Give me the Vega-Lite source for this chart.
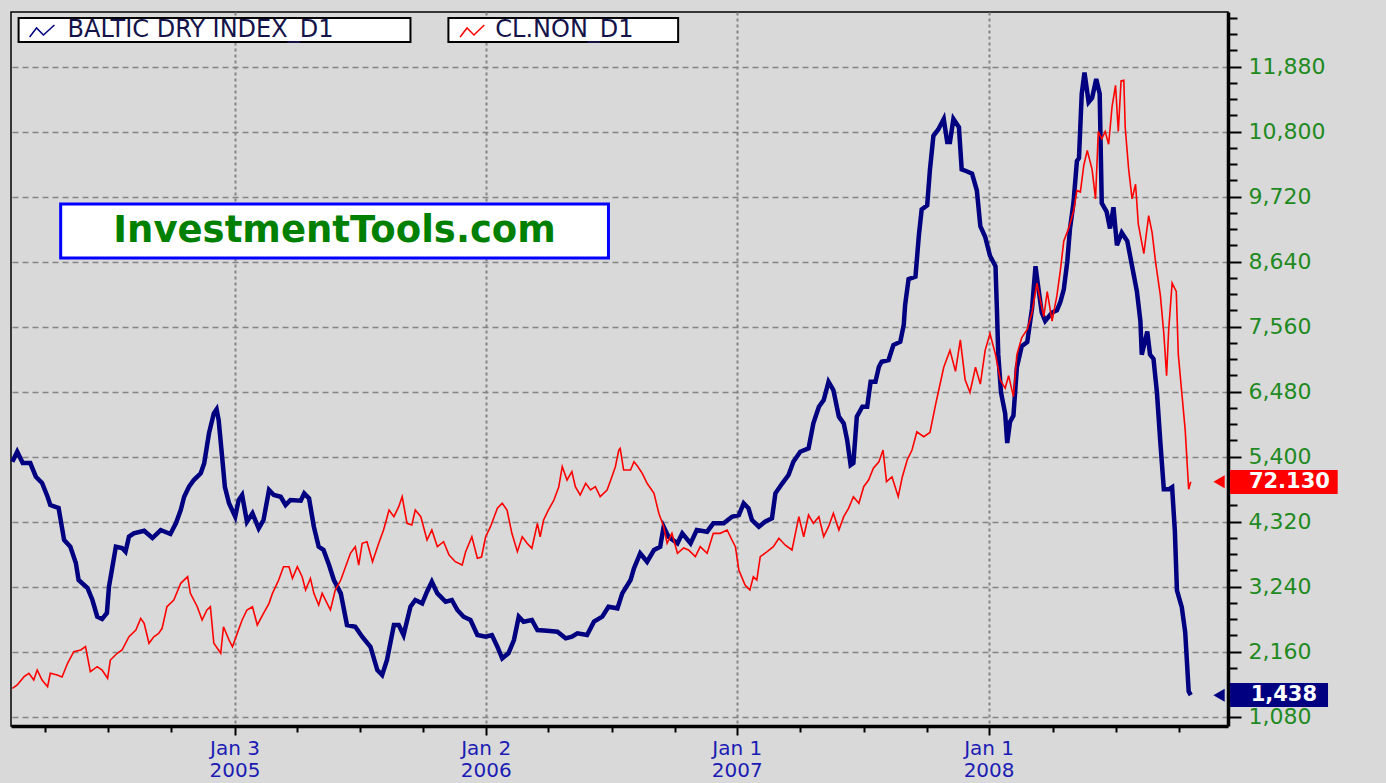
{
"$schema": "https://vega.github.io/schema/vega-lite/v6.json",
"width": 1217, "height": 714,
"autosize": {"type": "none"},
"padding": {"left": 11, "top": 12, "right": 158, "bottom": 57},
"background": "#d9d9d9",
"config": {"view": {"stroke": "#000000", "strokeWidth": 1.5, "fill": "#d9d9d9"}, "font": "DejaVu Sans"},
"datasets": {
"bdi": [
{"d":"2004-02-16","v":5317},{"d":"2004-02-23","v":5483},{"d":"2004-03-02","v":5295},{"d":"2004-03-13","v":5295},{"d":"2004-03-21","v":5068},{"d":"2004-03-30","v":4963},{"d":"2004-04-07","v":4735},{"d":"2004-04-11","v":4597},{"d":"2004-04-23","v":4548},{"d":"2004-05-01","v":4016},{"d":"2004-05-10","v":3905},{"d":"2004-05-18","v":3634},{"d":"2004-05-22","v":3351},{"d":"2004-06-04","v":3218},{"d":"2004-06-11","v":3019},{"d":"2004-06-18","v":2742},{"d":"2004-06-25","v":2703},{"d":"2004-07-02","v":2803},{"d":"2004-07-05","v":3240},{"d":"2004-07-10","v":3572},{"d":"2004-07-15","v":3905},{"d":"2004-07-24","v":3883},{"d":"2004-07-29","v":3822},{"d":"2004-08-03","v":4071},{"d":"2004-08-10","v":4127},{"d":"2004-08-25","v":4170},{"d":"2004-09-06","v":4049},{"d":"2004-09-18","v":4182},{"d":"2004-10-02","v":4116},{"d":"2004-10-10","v":4293},{"d":"2004-10-17","v":4514},{"d":"2004-10-22","v":4735},{"d":"2004-10-29","v":4901},{"d":"2004-11-05","v":5013},{"d":"2004-11-15","v":5124},{"d":"2004-11-20","v":5290},{"d":"2004-11-27","v":5789},{"d":"2004-12-04","v":6121},{"d":"2004-12-08","v":6188},{"d":"2004-12-11","v":6010},{"d":"2004-12-16","v":5400},{"d":"2004-12-20","v":4901},{"d":"2004-12-26","v":4626},
{"d":"2005-01-04","v":4403},{"d":"2005-01-09","v":4680},{"d":"2005-01-14","v":4764},{"d":"2005-01-21","v":4320},{"d":"2005-01-29","v":4459},{"d":"2005-02-07","v":4210},{"d":"2005-02-14","v":4348},{"d":"2005-02-22","v":4847},{"d":"2005-03-01","v":4764},{"d":"2005-03-11","v":4735},{"d":"2005-03-18","v":4597},{"d":"2005-03-25","v":4680},{"d":"2005-04-09","v":4669},{"d":"2005-04-14","v":4792},{"d":"2005-04-21","v":4709},{"d":"2005-04-28","v":4237},{"d":"2005-05-05","v":3905},{"d":"2005-05-12","v":3850},{"d":"2005-05-20","v":3601},{"d":"2005-05-27","v":3351},{"d":"2005-06-06","v":3130},{"d":"2005-06-15","v":2604},{"d":"2005-06-27","v":2575},{"d":"2005-07-07","v":2409},{"d":"2005-07-19","v":2243},{"d":"2005-07-29","v":1856},{"d":"2005-08-05","v":1773},{"d":"2005-08-12","v":2022},{"d":"2005-08-22","v":2604},{"d":"2005-08-29","v":2604},{"d":"2005-09-05","v":2437},{"d":"2005-09-15","v":2908},{"d":"2005-09-22","v":3019},{"d":"2005-10-02","v":2964},{"d":"2005-10-09","v":3157},{"d":"2005-10-16","v":3323},{"d":"2005-10-24","v":3130},{"d":"2005-11-05","v":2991},{"d":"2005-11-14","v":3019},{"d":"2005-11-22","v":2853},{"d":"2005-12-01","v":2742},{"d":"2005-12-11","v":2687},{"d":"2005-12-21","v":2437},
{"d":"2006-01-02","v":2409},{"d":"2006-01-11","v":2437},{"d":"2006-01-19","v":2243},{"d":"2006-01-26","v":2050},{"d":"2006-02-04","v":2133},{"d":"2006-02-12","v":2354},{"d":"2006-02-19","v":2742},{"d":"2006-02-26","v":2659},{"d":"2006-03-10","v":2687},{"d":"2006-03-18","v":2521},{"d":"2006-04-01","v":2509},{"d":"2006-04-16","v":2492},{"d":"2006-04-28","v":2383},{"d":"2006-05-07","v":2409},{"d":"2006-05-15","v":2466},{"d":"2006-05-29","v":2437},{"d":"2006-06-08","v":2659},{"d":"2006-06-20","v":2742},{"d":"2006-06-29","v":2908},{"d":"2006-07-12","v":2881},{"d":"2006-07-19","v":3130},{"d":"2006-07-31","v":3351},{"d":"2006-08-05","v":3546},{"d":"2006-08-14","v":3795},{"d":"2006-08-24","v":3655},{"d":"2006-09-03","v":3850},{"d":"2006-09-12","v":3905},{"d":"2006-09-17","v":4237},{"d":"2006-09-24","v":4071},{"d":"2006-10-07","v":3961},{"d":"2006-10-14","v":4127},{"d":"2006-10-26","v":3961},{"d":"2006-11-04","v":4182},{"d":"2006-11-19","v":4154},{"d":"2006-11-28","v":4293},{"d":"2006-12-13","v":4293},{"d":"2006-12-25","v":4403},
{"d":"2007-01-04","v":4431},{"d":"2007-01-11","v":4626},{"d":"2007-01-18","v":4543},{"d":"2007-01-23","v":4348},{"d":"2007-02-02","v":4237},{"d":"2007-02-11","v":4320},{"d":"2007-02-21","v":4376},{"d":"2007-02-26","v":4792},{"d":"2007-03-08","v":4958},{"d":"2007-03-17","v":5096},{"d":"2007-03-24","v":5317},{"d":"2007-04-03","v":5483},{"d":"2007-04-15","v":5539},{"d":"2007-04-22","v":5955},{"d":"2007-04-30","v":6231},{"d":"2007-05-07","v":6342},{"d":"2007-05-14","v":6646},{"d":"2007-05-21","v":6508},{"d":"2007-05-29","v":6065},{"d":"2007-06-05","v":5955},{"d":"2007-06-10","v":5677},{"d":"2007-06-15","v":5262},{"d":"2007-06-19","v":5295},{"d":"2007-06-24","v":6065},{"d":"2007-07-02","v":6231},{"d":"2007-07-09","v":6231},{"d":"2007-07-14","v":6646},{"d":"2007-07-21","v":6646},{"d":"2007-07-26","v":6895},{"d":"2007-07-30","v":6978},{"d":"2007-08-09","v":7007},{"d":"2007-08-16","v":7256},{"d":"2007-08-26","v":7311},{"d":"2007-08-31","v":7588},{"d":"2007-09-02","v":7920},{"d":"2007-09-07","v":8352},{"d":"2007-09-17","v":8394},{"d":"2007-09-22","v":9088},{"d":"2007-09-26","v":9509},{"d":"2007-10-04","v":9579},{"d":"2007-10-08","v":10173},{"d":"2007-10-13","v":10732},{"d":"2007-10-20","v":10838},{"d":"2007-10-28","v":11013},{"d":"2007-11-02","v":10629},{"d":"2007-11-06","v":10629},{"d":"2007-11-11","v":11013},{"d":"2007-11-19","v":10873},{"d":"2007-11-23","v":10173},{"d":"2007-12-01","v":10139},{"d":"2007-12-08","v":10104},{"d":"2007-12-15","v":9823},{"d":"2007-12-20","v":9230},{"d":"2007-12-27","v":9054},
{"d":"2008-01-03","v":8740},{"d":"2008-01-11","v":8565},{"d":"2008-01-13","v":7866},{"d":"2008-01-15","v":7096},{"d":"2008-01-19","v":6467},{"d":"2008-01-25","v":6118},{"d":"2008-01-28","v":5628},{"d":"2008-02-01","v":5976},{"d":"2008-02-06","v":6083},{"d":"2008-02-11","v":6887},{"d":"2008-02-18","v":7236},{"d":"2008-02-26","v":7306},{"d":"2008-03-04","v":7866},{"d":"2008-03-09","v":8565},{"d":"2008-03-13","v":8215},{"d":"2008-03-18","v":7796},{"d":"2008-03-23","v":7655},{"d":"2008-04-02","v":7796},{"d":"2008-04-09","v":7831},{"d":"2008-04-14","v":7970},{"d":"2008-04-19","v":8180},{"d":"2008-04-24","v":8635},{"d":"2008-04-28","v":9193},{"d":"2008-05-03","v":9613},{"d":"2008-05-08","v":10313},{"d":"2008-05-11","v":10363},{"d":"2008-05-15","v":11431},{"d":"2008-05-19","v":11782},{"d":"2008-05-25","v":11292},{"d":"2008-05-30","v":11360},{"d":"2008-06-05","v":11677},{"d":"2008-06-10","v":11431},{"d":"2008-06-13","v":9613},{"d":"2008-06-20","v":9474},{"d":"2008-06-25","v":9193},{"d":"2008-06-30","v":9544},{"d":"2008-07-05","v":8914},{"d":"2008-07-12","v":9123},{"d":"2008-07-20","v":8984},{"d":"2008-07-27","v":8565},{"d":"2008-08-03","v":8145},{"d":"2008-08-08","v":7655},{"d":"2008-08-10","v":7096},{"d":"2008-08-18","v":7480},{"d":"2008-08-22","v":7096},{"d":"2008-08-27","v":7027},{"d":"2008-09-01","v":6467},{"d":"2008-09-06","v":5628},{"d":"2008-09-11","v":4858},{"d":"2008-09-18","v":4858},{"d":"2008-09-23","v":4893},{"d":"2008-09-27","v":4159},{"d":"2008-09-30","v":3180},{"d":"2008-10-07","v":2901},{"d":"2008-10-12","v":2481},{"d":"2008-10-17","v":1502},{"d":"2008-10-20","v":1438}
],
"oil": [
{"d":"2004-02-16","v":34.96},{"d":"2004-02-23","v":35.56},{"d":"2004-03-04","v":37.05},{"d":"2004-03-11","v":37.66},{"d":"2004-03-18","v":36.45},{"d":"2004-03-23","v":38.25},{"d":"2004-03-30","v":36.45},{"d":"2004-04-07","v":35.25},{"d":"2004-04-11","v":37.66},{"d":"2004-04-21","v":37.35},{"d":"2004-04-28","v":36.99},{"d":"2004-05-06","v":39.46},{"d":"2004-05-15","v":41.55},{"d":"2004-05-25","v":41.85},{"d":"2004-06-01","v":42.45},{"d":"2004-06-08","v":37.95},{"d":"2004-06-18","v":38.85},{"d":"2004-06-25","v":38.25},{"d":"2004-07-03","v":36.76},{"d":"2004-07-07","v":40.05},{"d":"2004-07-17","v":41.26},{"d":"2004-07-24","v":41.85},{"d":"2004-08-03","v":44.24},{"d":"2004-08-13","v":45.45},{"d":"2004-08-20","v":47.55},{"d":"2004-08-25","v":46.65},{"d":"2004-09-01","v":43.06},{"d":"2004-09-08","v":44.24},{"d":"2004-09-15","v":44.85},{"d":"2004-09-20","v":45.75},{"d":"2004-09-27","v":49.64},{"d":"2004-10-07","v":50.85},{"d":"2004-10-17","v":53.85},{"d":"2004-10-27","v":55.04},{"d":"2004-10-31","v":52.05},{"d":"2004-11-10","v":49.64},{"d":"2004-11-17","v":47.25},{"d":"2004-11-24","v":49.05},{"d":"2004-11-29","v":49.64},{"d":"2004-12-04","v":43.06},{"d":"2004-12-14","v":41.26},{"d":"2004-12-18","v":46.04},{"d":"2004-12-26","v":43.65},{"d":"2004-12-31","v":42.45},
{"d":"2005-01-07","v":44.85},{"d":"2005-01-14","v":47.25},{"d":"2005-01-21","v":49.05},{"d":"2005-01-29","v":49.64},{"d":"2005-02-05","v":46.35},{"d":"2005-02-14","v":48.45},{"d":"2005-02-22","v":50.25},{"d":"2005-02-27","v":52.05},{"d":"2005-03-08","v":54.44},{"d":"2005-03-15","v":56.84},{"d":"2005-03-23","v":56.84},{"d":"2005-03-28","v":54.75},{"d":"2005-04-04","v":56.84},{"d":"2005-04-11","v":55.04},{"d":"2005-04-16","v":52.64},{"d":"2005-04-23","v":54.75},{"d":"2005-04-28","v":52.05},{"d":"2005-05-05","v":49.95},{"d":"2005-05-10","v":52.05},{"d":"2005-05-22","v":49.05},{"d":"2005-05-29","v":52.64},{"d":"2005-06-06","v":54.44},{"d":"2005-06-20","v":59.25},{"d":"2005-06-27","v":60.44},{"d":"2005-07-02","v":57.14},{"d":"2005-07-07","v":61.05},{"d":"2005-07-14","v":61.33},{"d":"2005-07-22","v":57.74},{"d":"2005-07-31","v":61.05},{"d":"2005-08-07","v":63.44},{"d":"2005-08-15","v":67.04},{"d":"2005-08-22","v":65.83},{"d":"2005-08-29","v":67.63},{"d":"2005-09-03","v":69.43},{"d":"2005-09-10","v":64.64},{"d":"2005-09-17","v":64.34},{"d":"2005-09-22","v":67.04},{"d":"2005-09-30","v":65.83},{"d":"2005-10-09","v":61.64},{"d":"2005-10-16","v":63.44},{"d":"2005-10-24","v":60.44},{"d":"2005-11-02","v":61.33},{"d":"2005-11-10","v":58.94},{"d":"2005-11-19","v":57.74},{"d":"2005-11-29","v":57.14},{"d":"2005-12-04","v":59.54},{"d":"2005-12-13","v":62.23},{"d":"2005-12-21","v":58.35},{"d":"2005-12-27","v":58.58},
{"d":"2006-01-02","v":62.23},{"d":"2006-01-09","v":64.03},{"d":"2006-01-19","v":67.34},{"d":"2006-01-26","v":68.24},{"d":"2006-02-02","v":67.04},{"d":"2006-02-09","v":62.84},{"d":"2006-02-17","v":59.54},{"d":"2006-02-24","v":62.23},{"d":"2006-03-03","v":61.04},{"d":"2006-03-10","v":60.15},{"d":"2006-03-18","v":64.64},{"d":"2006-03-22","v":62.23},{"d":"2006-03-27","v":65.24},{"d":"2006-04-03","v":67.04},{"d":"2006-04-11","v":68.83},{"d":"2006-04-18","v":71.23},{"d":"2006-04-23","v":74.83},{"d":"2006-04-30","v":72.43},{"d":"2006-05-07","v":73.93},{"d":"2006-05-12","v":71.23},{"d":"2006-05-19","v":69.73},{"d":"2006-05-27","v":71.84},{"d":"2006-06-03","v":70.63},{"d":"2006-06-10","v":71.23},{"d":"2006-06-17","v":69.43},{"d":"2006-06-27","v":70.63},{"d":"2006-07-04","v":73.03},{"d":"2006-07-09","v":74.83},{"d":"2006-07-14","v":77.83},{"d":"2006-07-16","v":78.13},{"d":"2006-07-21","v":74.23},{"d":"2006-07-31","v":74.23},{"d":"2006-08-05","v":75.72},{"d":"2006-08-10","v":74.95},{"d":"2006-08-17","v":73.64},{"d":"2006-08-24","v":71.84},{"d":"2006-09-03","v":70.04},{"d":"2006-09-10","v":66.44},{"d":"2006-09-17","v":64.03},{"d":"2006-09-22","v":61.04},{"d":"2006-09-29","v":62.84},{"d":"2006-10-07","v":59.25},{"d":"2006-10-16","v":60.2},{"d":"2006-10-23","v":59.84},{"d":"2006-11-02","v":58.64},{"d":"2006-11-09","v":60.44},{"d":"2006-11-19","v":59.25},{"d":"2006-11-28","v":62.84},{"d":"2006-12-08","v":62.84},{"d":"2006-12-18","v":63.44},{"d":"2006-12-25","v":61.64},{"d":"2006-12-30","v":60.44},
{"d":"2007-01-04","v":56.24},{"d":"2007-01-13","v":53.54},{"d":"2007-01-20","v":52.64},{"d":"2007-01-25","v":55.04},{"d":"2007-01-30","v":54.44},{"d":"2007-02-04","v":58.64},{"d":"2007-02-14","v":59.54},{"d":"2007-02-23","v":60.44},{"d":"2007-03-03","v":61.94},{"d":"2007-03-12","v":60.74},{"d":"2007-03-22","v":59.84},{"d":"2007-03-27","v":62.84},{"d":"2007-04-01","v":65.83},{"d":"2007-04-08","v":62.23},{"d":"2007-04-15","v":66.14},{"d":"2007-04-22","v":64.64},{"d":"2007-04-30","v":65.83},{"d":"2007-05-07","v":62.23},{"d":"2007-05-14","v":64.03},{"d":"2007-05-21","v":66.44},{"d":"2007-05-29","v":63.44},{"d":"2007-06-05","v":65.83},{"d":"2007-06-12","v":67.34},{"d":"2007-06-19","v":69.43},{"d":"2007-06-27","v":68.24},{"d":"2007-07-04","v":71.23},{"d":"2007-07-11","v":72.43},{"d":"2007-07-18","v":74.54},{"d":"2007-07-26","v":75.72},{"d":"2007-08-01","v":77.83},{"d":"2007-08-06","v":72.13},{"d":"2007-08-14","v":72.97},{"d":"2007-08-23","v":69.43},{"d":"2007-08-29","v":73.03},{"d":"2007-09-05","v":76.03},{"d":"2007-09-12","v":77.83},{"d":"2007-09-19","v":81.09},{"d":"2007-09-29","v":80.22},{"d":"2007-10-08","v":80.98},{"d":"2007-10-16","v":85.91},{"d":"2007-10-20","v":88.17},{"d":"2007-10-28","v":92.72},{"d":"2007-11-06","v":95.75},{"d":"2007-11-14","v":91.97},{"d":"2007-11-21","v":97.64},{"d":"2007-11-28","v":90.44},{"d":"2007-12-05","v":88.17},{"d":"2007-12-13","v":92.72},{"d":"2007-12-20","v":89.68},{"d":"2007-12-27","v":95.75},
{"d":"2008-01-03","v":98.77},{"d":"2008-01-11","v":94.99},{"d":"2008-01-18","v":90.44},{"d":"2008-01-25","v":88.93},{"d":"2008-01-30","v":91.2},{"d":"2008-02-06","v":87.42},{"d":"2008-02-11","v":94.99},{"d":"2008-02-18","v":98.01},{"d":"2008-02-26","v":99.52},{"d":"2008-03-04","v":102.56},{"d":"2008-03-11","v":107.85},{"d":"2008-03-16","v":104.83},{"d":"2008-03-21","v":101.81},{"d":"2008-03-26","v":106.34},{"d":"2008-04-02","v":101.03},{"d":"2008-04-09","v":105.59},{"d":"2008-04-14","v":110.14},{"d":"2008-04-19","v":115.43},{"d":"2008-04-26","v":117.69},{"d":"2008-05-03","v":120.73},{"d":"2008-05-08","v":124.51},{"d":"2008-05-13","v":124.24},{"d":"2008-05-18","v":129.06},{"d":"2008-05-23","v":131.71},{"d":"2008-05-30","v":128.31},{"d":"2008-06-04","v":123.0},{"d":"2008-06-08","v":135.12},{"d":"2008-06-13","v":133.78},{"d":"2008-06-18","v":135.12},{"d":"2008-06-23","v":132.84},{"d":"2008-06-28","v":139.66},{"d":"2008-07-03","v":143.44},{"d":"2008-07-07","v":135.12},{"d":"2008-07-11","v":144.21},{"d":"2008-07-15","v":144.35},{"d":"2008-07-17","v":135.88},{"d":"2008-07-22","v":128.31},{"d":"2008-07-27","v":123.0},{"d":"2008-08-01","v":125.64},{"d":"2008-08-05","v":118.47},{"d":"2008-08-13","v":113.16},{"d":"2008-08-20","v":119.98},{"d":"2008-08-25","v":116.94},{"d":"2008-08-30","v":111.65},{"d":"2008-09-06","v":105.59},{"d":"2008-09-11","v":98.77},{"d":"2008-09-15","v":91.2},{"d":"2008-09-18","v":99.42},{"d":"2008-09-23","v":107.85},{"d":"2008-09-29","v":106.34},{"d":"2008-10-02","v":94.99},{"d":"2008-10-07","v":88.17},{"d":"2008-10-12","v":81.36},{"d":"2008-10-17","v":70.76},{"d":"2008-10-20","v":72.13}
]
},
"layer": [
{
"data": {"name": "bdi"},
"mark": {"type": "line", "color": "#000080", "strokeWidth": 4.5},
"encoding": {
"x": {"field": "d", "type": "temporal",
 "scale": {"type": "utc", "domain": [{"year": 2004, "month": 2, "date": 14, "utc": true}, {"year": 2008, "month": 12, "date": 13, "utc": true}]},
 "axis": {"orient": "bottom", "title": null,
  "values": [{"year": 2005, "month": 1, "date": 3, "utc": true}, {"year": 2006, "month": 1, "date": 2, "utc": true}, {"year": 2007, "month": 1, "date": 1, "utc": true}, {"year": 2008, "month": 1, "date": 1, "utc": true}],
  "labelExpr": "[utcFormat(datum.value, '%b %-d'), utcFormat(datum.value, '%Y')]",
  "grid": true, "gridDash": [3, 3], "gridColor": "#858585", "gridWidth": 2,
  "domain": true, "domainColor": "#000000", "domainWidth": 3.5,
  "ticks": true, "tickColor": "#000000", "tickWidth": 2, "tickSize": 9,
  "labelFont": "DejaVu Sans", "labelFontSize": 20, "labelColor": "#1c1cb4", "labelPadding": 3, "labelLineHeight": 22,
  "labelAlign": "center", "labelFlush": false, "labelOverlap": false, "labelBound": false}},
"y": {"field": "v", "type": "quantitative",
 "scale": {"domain": [926, 12789], "nice": false, "zero": false},
 "axis": {"orient": "right", "title": null,
  "values": [1080, 2160, 3240, 4320, 5400, 6480, 7560, 8640, 9720, 10800, 11880],
  "format": ",d",
  "grid": true, "gridDash": [6, 4], "gridColor": "#858585", "gridWidth": 1.5,
  "domain": true, "domainColor": "#000000", "domainWidth": 3.5,
  "ticks": true, "tickColor": "#000000", "tickWidth": 2, "tickSize": 13,
  "labelFont": "DejaVu Sans", "labelFontSize": 22, "labelColor": "#1f8a1f", "labelPadding": 7,
  "labelFlush": false, "labelOverlap": false, "labelBound": false}}
}
},
{
"data": {"name": "bdi"},
"mark": {"type": "line", "opacity": 0},
"encoding": {
"x": {"field": "d", "type": "temporal",
 "axis": {"orient": "bottom", "title": null, "labels": false, "grid": false, "domain": false,
  "ticks": true, "tickColor": "#000000", "tickWidth": 2, "tickSize": 6,
  "values": [{"year": 2004, "month": 4, "date": 3, "utc": true}, {"year": 2004, "month": 7, "date": 4, "utc": true}, {"year": 2004, "month": 10, "date": 3, "utc": true},
   {"year": 2005, "month": 4, "date": 3, "utc": true}, {"year": 2005, "month": 7, "date": 4, "utc": true}, {"year": 2005, "month": 10, "date": 3, "utc": true},
   {"year": 2006, "month": 4, "date": 3, "utc": true}, {"year": 2006, "month": 7, "date": 4, "utc": true}, {"year": 2006, "month": 10, "date": 3, "utc": true},
   {"year": 2007, "month": 4, "date": 3, "utc": true}, {"year": 2007, "month": 7, "date": 4, "utc": true}, {"year": 2007, "month": 10, "date": 3, "utc": true},
   {"year": 2008, "month": 4, "date": 3, "utc": true}, {"year": 2008, "month": 7, "date": 4, "utc": true}, {"year": 2008, "month": 10, "date": 3, "utc": true}]}},
"y": {"field": "v", "type": "quantitative",
 "scale": {"domain": [926, 12789], "nice": false, "zero": false},
 "axis": {"orient": "right", "title": null, "labels": false, "grid": false, "domain": false,
  "ticks": true, "tickColor": "#000000", "tickWidth": 2, "tickSize": 9,
  "values": [1350, 1620, 1890, 2430, 2700, 2970, 3510, 3780, 4050, 4590, 4860, 5130, 5670, 5940, 6210, 6750, 7020, 7290, 7830, 8100, 8370, 8910, 9180, 9450, 9990, 10260, 10530, 11070, 11340, 11610, 12150, 12420, 12690]}}
}
},
{
"data": {"values": [{"d": "2004-04-26", "d2": "2006-06-29", "v": 9599, "v2": 8701}]},
"mark": {"type": "rect", "fill": "#ffffff", "stroke": "#0000ff", "strokeWidth": 3},
"encoding": {
"x": {"field": "d", "type": "temporal", "axis": null}, "x2": {"field": "d2"},
"y": {"field": "v", "type": "quantitative", "scale": {"domain": [926, 12789], "nice": false, "zero": false}, "axis": null}, "y2": {"field": "v2"}
}
},
{
"data": {"values": [{"d": "2005-05-28", "v": 9150, "t": "InvestmentTools.com"}]},
"mark": {"type": "text", "font": "DejaVu Sans", "fontSize": 37, "fontWeight": "bold", "color": "#008000", "align": "center", "baseline": "middle"},
"encoding": {
"x": {"field": "d", "type": "temporal", "axis": null},
"y": {"field": "v", "type": "quantitative", "scale": {"domain": [926, 12789], "nice": false, "zero": false}, "axis": null},
"text": {"field": "t"}
}
},
{
"data": {"values": [{"d": "2004-02-25", "d2": "2005-09-15", "v": 12689, "v2": 12290}, {"d": "2005-11-09", "d2": "2006-10-08", "v": 12689, "v2": 12290}]},
"mark": {"type": "rect", "fill": "#ffffff", "stroke": "#000000", "strokeWidth": 2},
"encoding": {
"x": {"field": "d", "type": "temporal", "axis": null}, "x2": {"field": "d2"},
"y": {"field": "v", "type": "quantitative", "scale": {"domain": [926, 12789], "nice": false, "zero": false}, "axis": null}, "y2": {"field": "v2"}
}
},
{
"data": {"values": [{"d": "2004-05-06", "v": 12490, "t": "BALTIC DRY INDEX_D1"}, {"d": "2006-01-16", "v": 12490, "t": "CL.NON_D1"}]},
"mark": {"type": "text", "font": "DejaVu Sans", "fontSize": 24, "color": "#14144a", "align": "left", "baseline": "middle"},
"encoding": {
"x": {"field": "d", "type": "temporal", "axis": null},
"y": {"field": "v", "type": "quantitative", "scale": {"domain": [926, 12789], "nice": false, "zero": false}, "axis": null},
"text": {"field": "t"}
}
},
{
"data": {"values": [
 {"d": "2004-03-12", "v": 12373, "c": "#000080"}, {"d": "2004-03-22", "v": 12523, "c": "#000080"}, {"d": "2004-04-01", "v": 12406, "c": "#000080"}, {"d": "2004-04-17", "v": 12573, "c": "#000080"},
 {"d": "2005-11-26", "v": 12373, "c": "#ff0000"}, {"d": "2005-12-06", "v": 12523, "c": "#ff0000"}, {"d": "2005-12-16", "v": 12406, "c": "#ff0000"}, {"d": "2005-12-31", "v": 12573, "c": "#ff0000"}]},
"mark": {"type": "line", "strokeWidth": 1.5},
"encoding": {
"x": {"field": "d", "type": "temporal", "axis": null},
"y": {"field": "v", "type": "quantitative", "scale": {"domain": [926, 12789], "nice": false, "zero": false}, "axis": null},
"color": {"field": "c", "type": "nominal", "scale": null, "legend": null}
}
},
{
"data": {"values": [{"d": "2008-12-16", "d2": "2009-05-07", "v": 1640, "v2": 1241}]},
"mark": {"type": "rect", "fill": "#000080"},
"encoding": {
"x": {"field": "d", "type": "temporal", "axis": null}, "x2": {"field": "d2"},
"y": {"field": "v", "type": "quantitative", "scale": {"domain": [926, 12789], "nice": false, "zero": false}, "axis": null}, "y2": {"field": "v2"}
}
},
{
"data": {"values": [{"d": "2009-03-04", "v": 1438, "t": "1,438"}]},
"mark": {"type": "text", "font": "DejaVu Sans", "fontSize": 21, "fontWeight": "bold", "color": "#ffffff", "align": "center", "baseline": "middle"},
"encoding": {
"x": {"field": "d", "type": "temporal", "axis": null},
"y": {"field": "v", "type": "quantitative", "scale": {"domain": [926, 12789], "nice": false, "zero": false}, "axis": null},
"text": {"field": "t"}
}
},
{
"data": {"values": [{"d": "2008-11-30", "v": 1438}]},
"mark": {"type": "point", "shape": "triangle-left", "filled": true, "size": 170, "color": "#000080", "opacity": 1},
"encoding": {
"x": {"field": "d", "type": "temporal", "axis": null},
"y": {"field": "v", "type": "quantitative", "scale": {"domain": [926, 12789], "nice": false, "zero": false}, "axis": null}
}
},
{
"data": {"name": "oil"},
"mark": {"type": "line", "color": "#ff0000", "strokeWidth": 1.6},
"encoding": {
"x": {"field": "d", "type": "temporal", "axis": null},
"y": {"field": "v", "type": "quantitative", "scale": {"domain": [28.18, 156.62], "nice": false, "zero": false}, "axis": null}
}
},
{
"data": {"values": [{"d": "2008-12-16", "d2": "2009-05-21", "v": 74.23, "v2": 69.91}]},
"mark": {"type": "rect", "fill": "#ff0000"},
"encoding": {
"x": {"field": "d", "type": "temporal", "axis": null}, "x2": {"field": "d2"},
"y": {"field": "v", "type": "quantitative", "scale": {"domain": [28.18, 156.62], "nice": false, "zero": false}, "axis": null}, "y2": {"field": "v2"}
}
},
{
"data": {"values": [{"d": "2009-03-12", "v": 72.13, "t": "72.130"}]},
"mark": {"type": "text", "font": "DejaVu Sans", "fontSize": 21, "fontWeight": "bold", "color": "#ffffff", "align": "center", "baseline": "middle"},
"encoding": {
"x": {"field": "d", "type": "temporal", "axis": null},
"y": {"field": "v", "type": "quantitative", "scale": {"domain": [28.18, 156.62], "nice": false, "zero": false}, "axis": null},
"text": {"field": "t"}
}
},
{
"data": {"values": [{"d": "2008-11-30", "v": 72.13}]},
"mark": {"type": "point", "shape": "triangle-left", "filled": true, "size": 170, "color": "#ff0000", "opacity": 1},
"encoding": {
"x": {"field": "d", "type": "temporal", "axis": null},
"y": {"field": "v", "type": "quantitative", "scale": {"domain": [28.18, 156.62], "nice": false, "zero": false}, "axis": null}
}
}
],
"resolve": {"scale": {"y": "independent"}, "axis": {"x": "independent", "y": "independent"}}
}
